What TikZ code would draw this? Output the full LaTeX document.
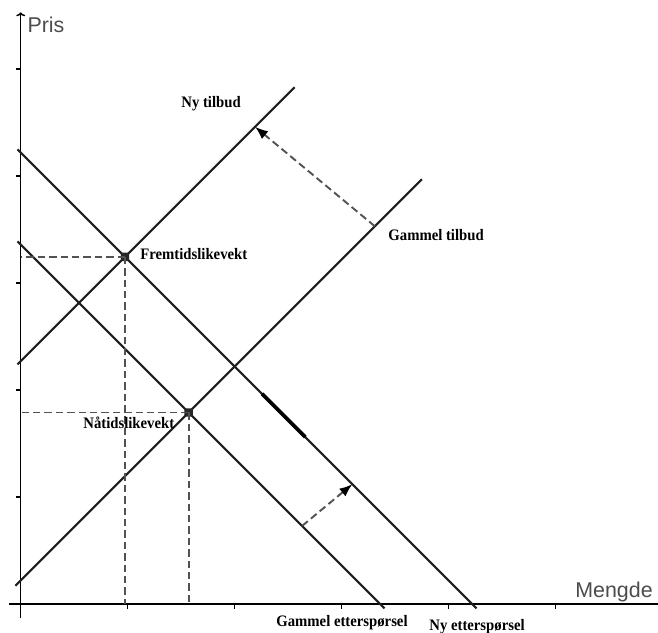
\documentclass[tikz,border=0pt]{standalone}
\usepackage{fontspec}
\setmainfont{Liberation Serif}
\newfontfamily\labfont{Liberation Serif}[FakeStretch=0.92]
\newfontfamily\axisfont{Liberation Sans}
\usetikzlibrary{arrows.meta}
\begin{document}
\begin{tikzpicture}[x=53.5pt,y=53.5pt,
 curve/.style={line width=1.05pt,draw=black!88},
 guide/.style={line width=0.95pt,draw=black!68,dash pattern=on 3.7pt off 2pt},
 shiftarrow/.style={guide,-{Latex[length=6.5pt,width=5pt,color=black]}},
 eqpt/.style={fill=black!85,minimum size=4.2pt,inner sep=0pt,rounded corners=0.8pt},
 lab/.style={font=\labfont\fontsize{8}{9}\selectfont\bfseries,inner sep=0pt,text=black},
 axlab/.style={font=\axisfont\fontsize{10.7}{12}\selectfont,text=black!70,inner sep=0pt},
 axisline/.style={line width=0.75pt,draw=black}]
\useasboundingbox (-0.1935,-0.2617) rectangle (5.956,5.645);
% axes
\coordinate (O) at (0,0);
\coordinate (ytop) at (0,5.53);
\coordinate (ybot) at (0,-0.13);
\coordinate (xleft) at (-0.11,0);
\coordinate (xright) at (5.956,0);
\draw[axisline,-{To[length=2pt,width=4.5pt]}] (ybot) -- (ytop);
\draw[axisline] (xleft) -- (xright);
\foreach \i in {1,...,5} {
  \draw[axisline] (\i,0) -- (\i,-0.047);
  \draw[axisline] (0,\i) -- (-0.042,\i);
}
\node[axlab,anchor=base west] (pris) at (0.06,5.343) {Pris};
\node[axlab,anchor=base west] (mengde) at (5.18,0.059) {Mengde};
% curves
\coordinate (s0a) at (-0.05,0.17);
\coordinate (s0b) at (3.75,3.97);
\coordinate (s1a) at (-0.03,2.24);
\coordinate (s1b) at (2.56,4.83);
\coordinate (d0a) at (-0.03,3.39);
\coordinate (d0b) at (3.40,-0.04);
\coordinate (d1a) at (-0.03,4.25);
\coordinate (d1b) at (4.26,-0.04);
\draw[curve] (s0a) -- (s0b);
\draw[curve] (s1a) -- (s1b);
\draw[curve] (d0a) -- (d0b);
\draw[curve] (d1a) -- (d1b);
\coordinate (thka) at (2.255,1.965);
\coordinate (thkb) at (2.66,1.56);
\draw[line width=1.8pt,draw=black] (thka) -- (thkb);
% equilibria
\node[eqpt] (now) at (1.57,1.79) {};
\node[eqpt] (fut) at (0.975,3.245) {};
\draw[guide] (fut.center) -- (fut.center -| O);
\draw[guide] (fut.center) -- (fut.center |- O);
\draw[guide] (now.center) -- (now.center -| O);
\draw[guide] (now.center) -- (now.center |- O);
% shifts
\coordinate (sh1a) at (3.31,3.53);
\coordinate (sh1b) at (2.19,4.46);
\coordinate (sh2a) at (2.63,0.73);
\coordinate (sh2b) at (3.10,1.12);
\draw[shiftarrow] (sh1a) -- (sh1b);
\draw[shiftarrow] (sh2a) -- (sh2b);
% labels
\node[lab,anchor=west] (lfut) at (1.115,3.27) {Fremtidslikevekt};
\node[lab,anchor=west] (lnow) at (0.582,1.69) {Nåtidslikevekt};
\node[lab,anchor=west] (lgt) at (3.433,3.449) {Gammel tilbud};
\node[lab,anchor=east] (lnt) at (2.06,4.68) {Ny tilbud};
\node[lab,anchor=west] (lge) at (2.386,-0.178) {Gammel etterspørsel};
\node[lab,anchor=west] (lne) at (3.816,-0.215) {Ny etterspørsel};
\end{tikzpicture}
\end{document}
